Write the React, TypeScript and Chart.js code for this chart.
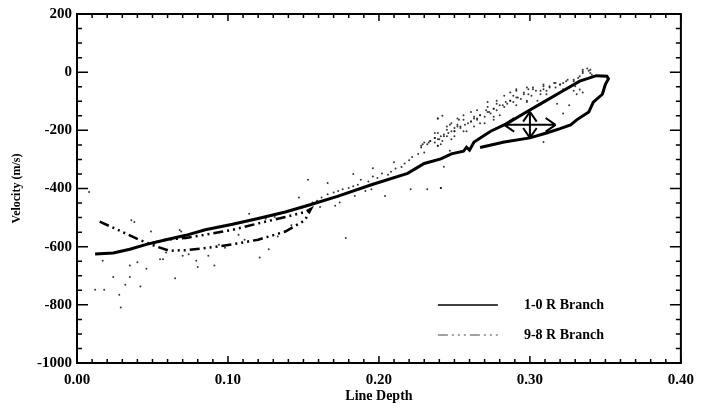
import { useEffect, useRef } from 'react';
import { Chart, registerables } from 'chart.js';

Chart.register(...registerables);

const xTicks = [0, 0.1, 0.2, 0.3, 0.4];
const yTicks = [-1000, -800, -600, -400, -200, 0, 200];
const legendLabels = ['1-0 R Branch', '9-8 R Branch'];

// 1-0 R branch (solid), traced in drawing order
const branch10X = [0.012, 0.024, 0.035, 0.046, 0.059, 0.072, 0.085, 0.103, 0.120, 0.138, 0.155, 0.173, 0.195, 0.219, 0.230, 0.241, 0.248, 0.256, 0.258, 0.260, 0.263, 0.274, 0.285, 0.296, 0.309, 0.322, 0.333, 0.344, 0.351, 0.352, 0.350, 0.348, 0.342, 0.339, 0.331, 0.327, 0.320, 0.311, 0.300, 0.283, 0.267];
const branch10Y = [-625, -622, -609, -592, -576, -561, -542, -523, -503, -481, -455, -426, -387, -348, -314, -298, -281, -272, -258, -268, -240, -203, -176, -142, -103, -64, -31, -12, -14, -23, -42, -76, -103, -137, -164, -181, -194, -209, -226, -240, -259];

// 9-8 R branch (dash-dot-dot-dot)
const branch98X = [0.015, 0.027, 0.041, 0.052, 0.061, 0.072, 0.088, 0.103, 0.120, 0.138, 0.151, 0.155, 0.151, 0.138, 0.120, 0.103, 0.085, 0.072, 0.059, 0.050];
const branch98Y = [-514, -542, -576, -598, -614, -612, -603, -592, -576, -548, -509, -470, -481, -498, -520, -542, -559, -570, -576, -587];

// individual measurements
const scatterX = [
  0.335, 0.339, 0.341, 0.333, 0.329, 0.325, 0.322, 0.320, 0.317, 0.313, 0.311, 0.309, 0.307, 0.304, 0.301, 0.299, 0.296, 0.294, 0.291, 0.289,
  0.287, 0.285, 0.283, 0.280, 0.278, 0.276, 0.274, 0.272, 0.270, 0.267, 0.265, 0.263, 0.261, 0.259, 0.256, 0.254, 0.252, 0.250, 0.248, 0.245,
  0.243, 0.241, 0.239, 0.237, 0.234, 0.232, 0.230, 0.228, 0.305, 0.298, 0.291, 0.280, 0.276, 0.270, 0.263, 0.256, 0.250, 0.239, 0.329, 0.324,
  0.318, 0.331, 0.256, 0.248, 0.291, 0.302, 0.287, 0.278, 0.239, 0.252, 0.265, 0.272, 0.298, 0.309, 0.316,
  0.322, 0.326, 0.335, 0.333, 0.340, 0.338, 0.335, 0.309, 0.243, 0.241,
  0.247, 0.250, 0.245, 0.242, 0.239, 0.237, 0.233, 0.230, 0.228, 0.226, 0.222, 0.220, 0.217, 0.215, 0.211, 0.208, 0.206, 0.202, 0.199, 0.196,
  0.193, 0.188, 0.186, 0.183, 0.180, 0.176, 0.173, 0.170, 0.166, 0.162, 0.159, 0.156, 0.166, 0.153, 0.161, 0.171, 0.174, 0.204, 0.221, 0.232,
  0.241, 0.247, 0.237, 0.229, 0.191, 0.195, 0.184, 0.147,
  0.036, 0.038, 0.049, 0.068, 0.069, 0.055, 0.057, 0.079, 0.080, 0.065, 0.046, 0.040, 0.035, 0.035, 0.028, 0.024, 0.017, 0.012, 0.018, 0.032,
  0.042, 0.091, 0.114, 0.121, 0.127, 0.133, 0.138, 0.142, 0.111, 0.107, 0.094, 0.074, 0.070, 0.059, 0.087, 0.098, 0.125, 0.131,
  0.029, 0.008, 0.178, 0.183, 0.239, 0.242, 0.196, 0.210,
  0.335, 0.340, 0.332, 0.329, 0.324, 0.320, 0.317, 0.313, 0.309, 0.307, 0.302, 0.299, 0.296, 0.292, 0.289, 0.287, 0.284, 0.282, 0.278, 0.276,
  0.273, 0.271, 0.267, 0.265, 0.263, 0.261, 0.257, 0.254, 0.252, 0.250, 0.246, 0.243, 0.240, 0.237, 0.234, 0.291, 0.283, 0.272, 0.298, 0.311,
  0.322, 0.330, 0.261, 0.253, 0.245, 0.239, 0.276, 0.267, 0.258, 0.248, 0.241,
];
const scatterY = [
  -3, 5, -9, -14, -31, -26, -37, -42, -53, -48, -64, -59, -76, -64, -81, -59, -76, -92, -87, -103,
  -98, -109, -120, -114, -131, -126, -142, -137, -153, -148, -164, -159, -170, -176, -164, -187, -181, -192, -203, -198,
  -214, -220, -231, -226, -237, -248, -242, -253, -98, -103, -114, -148, -164, -176, -187, -203, -220, -253, -64, -59,
  -109, -76, -148, -176, -64, -53, -70, -98, -159, -159, -131, -120, -53, -42, -37,
  -142, -114, -70, -60, -3, 13, 8, -240, -325, -398,
  -181, -203, -220, -237, -253, -226, -242, -276, -259, -281, -292, -303, -314, -326, -331, -342, -353, -348, -364, -359,
  -376, -370, -387, -392, -398, -403, -409, -414, -420, -431, -442, -448, -381, -370, -464, -459, -448, -426, -403, -403,
  -398, -270, -209, -248, -409, -403, -426, -431,
  -509, -515, -548, -543, -548, -643, -643, -648, -670, -709, -676, -654, -665, -704, -765, -704, -648, -748, -748, -731,
  -737, -665, -487, -637, -609, -565, -548, -526, -576, -559, -593, -626, -631, -620, -631, -604, -504, -498,
  -809, -412, -570, -350, -159, -150, -330, -310,
  2, 8, -20, -26, -31, -42, -37, -53, -48, -64, -59, -76, -70, -87, -81, -98, -103, -114, -109, -126,
  -137, -131, -148, -159, -153, -170, -181, -192, -187, -203, -209, -220, -231, -242, -237, -59, -81, -103, -98, -76,
  -59, -48, -137, -164, -187, -209, -153, -176, -203, -231, -248,
];

// error bar: centre and half-widths
const errCenterX = 0.300;
const errCenterY = -181;
const errHalfX = 0.017;
const errHalfY = 45;

const serif = '"Liberation Serif", "Times New Roman", serif';

const pairs = (xs: number[], ys: number[]) => xs.map((x, i) => ({ x, y: ys[i] }));

const DASH_98 = [10, 4, 2, 4, 2, 4, 2, 4];

const framePlugin = {
  id: 'frame',
  afterDatasetsDraw(chart: any) {
    const { ctx, chartArea: a, scales } = chart;
    const xs = scales.x;
    const ys = scales.y;
    ctx.save();
    ctx.strokeStyle = '#000';
    ctx.lineWidth = 2;
    ctx.setLineDash([]);
    ctx.strokeRect(a.left, a.top, a.right - a.left, a.bottom - a.top);

    // inward ticks on all four sides
    ctx.lineWidth = 1.5;
    ctx.beginPath();
    for (let i = 0; i <= 40; i++) {
      const p = xs.getPixelForValue(i / 100);
      const len = i % 10 === 0 ? 7 : 4;
      ctx.moveTo(p, a.bottom);
      ctx.lineTo(p, a.bottom - len);
      ctx.moveTo(p, a.top);
      ctx.lineTo(p, a.top + len);
    }
    for (let v = -1000; v <= 200; v += 50) {
      const p = ys.getPixelForValue(v);
      const len = v % 200 === 0 ? 11 : 5;
      ctx.moveTo(a.left, p);
      ctx.lineTo(a.left + len, p);
      ctx.moveTo(a.right, p);
      ctx.lineTo(a.right - len, p);
    }
    ctx.stroke();

    // error bar cross with double arrowheads
    const cx = xs.getPixelForValue(errCenterX);
    const cy = ys.getPixelForValue(errCenterY);
    const x0 = xs.getPixelForValue(errCenterX - errHalfX);
    const x1 = xs.getPixelForValue(errCenterX + errHalfX);
    const y0 = ys.getPixelForValue(errCenterY + errHalfY);
    const y1 = ys.getPixelForValue(errCenterY - errHalfY);
    ctx.lineWidth = 2;
    ctx.beginPath();
    ctx.moveTo(x0, cy); ctx.lineTo(x1, cy);
    ctx.moveTo(cx, y0); ctx.lineTo(cx, y1);
    const head = 12;
    const arrow = (tx: number, ty: number, dx: number, dy: number) => {
      const ang = Math.atan2(dy, dx);
      for (const s of [-0.6, 0.6]) {
        ctx.moveTo(tx, ty);
        ctx.lineTo(tx - head * Math.cos(ang + s), ty - head * Math.sin(ang + s));
      }
    };
    arrow(x0, cy, -1, 0);
    arrow(x1, cy, 1, 0);
    arrow(cx, y0, 0, -1);
    arrow(cx, y1, 0, 1);
    ctx.stroke();

    // legend inside plot, bottom right
    const lx0 = a.right - 243;
    const lx1 = a.right - 183;
    const tx = a.right - 157;
    const rows = [a.bottom - 58, a.bottom - 28];
    ctx.font = `bold 14px ${serif}`;
    ctx.fillStyle = '#000';
    ctx.textBaseline = 'middle';
    ctx.textAlign = 'left';
    rows.forEach((ry, i) => {
      ctx.beginPath();
      ctx.lineWidth = i === 0 ? 1.5 : 1.2;
      ctx.strokeStyle = i === 0 ? '#000' : '#444';
      ctx.setLineDash(i === 0 ? [] : DASH_98);
      ctx.moveTo(lx0, ry);
      ctx.lineTo(lx1, ry);
      ctx.stroke();
      ctx.fillText(legendLabels[i], tx, ry);
    });
    ctx.restore();
  },
};

export default function App() {
  const canvasRef = useRef<HTMLCanvasElement>(null);
  const chartRef = useRef<Chart | null>(null);

  useEffect(() => {
    document.body.style.margin = '0';
    if (!canvasRef.current) return;
    if (chartRef.current) chartRef.current.destroy();
    const ctx = canvasRef.current.getContext('2d');
    if (!ctx) return;

    const tickFont = { family: serif, weight: 'bold' as const, size: 15 };

    chartRef.current = new Chart(ctx, {
      type: 'scatter',
      data: {
        datasets: [
          {
            label: legendLabels[0],
            data: pairs(branch10X, branch10Y),
            showLine: true,
            borderColor: '#000',
            borderWidth: 3,
            pointRadius: 0,
            tension: 0,
          },
          {
            label: legendLabels[1],
            data: pairs(branch98X, branch98Y),
            showLine: true,
            borderColor: '#000',
            borderWidth: 2.5,
            borderDash: DASH_98,
            pointRadius: 0,
            tension: 0,
          },
          {
            label: 'points',
            data: pairs(scatterX, scatterY),
            pointRadius: 1,
            pointBorderWidth: 0,
            backgroundColor: 'rgba(20,20,20,0.85)',
          },
        ],
      },
      options: {
        animation: false,
        responsive: true,
        maintainAspectRatio: false,
        layout: { padding: { top: 10, right: 17, left: 0, bottom: 0 } },
        plugins: {
          legend: { display: false },
          tooltip: { enabled: false },
        },
        scales: {
          x: {
            type: 'linear',
            min: 0,
            max: 0.4,
            afterBuildTicks: (s: any) => { s.ticks = xTicks.map((value) => ({ value })); },
            afterFit: (s: any) => { s.height = 47; },
            grid: { display: false, drawTicks: false },
            border: { display: false },
            ticks: {
              padding: 8,
              color: '#000',
              font: tickFont,
              maxRotation: 0,
              callback: (v: any) => Number(v).toFixed(2),
            },
            title: {
              display: true,
              text: 'Line Depth',
              color: '#000',
              font: { family: serif, weight: 'bold', size: 14 },
              padding: { top: 0, bottom: 5 },
            },
          },
          y: {
            type: 'linear',
            min: -1000,
            max: 200,
            afterBuildTicks: (s: any) => { s.ticks = yTicks.map((value) => ({ value })); },
            afterFit: (s: any) => { s.width = 77; },
            grid: { display: false, drawTicks: false },
            border: { display: false },
            ticks: {
              padding: 5,
              color: '#000',
              font: tickFont,
              callback: (v: any) => String(v),
            },
            title: {
              display: true,
              text: 'Velocity (m/s)',
              color: '#000',
              font: { family: serif, weight: 'bold', size: 12 },
              padding: { top: 10, bottom: 0 },
            },
          },
        },
      },
      plugins: [framePlugin],
    });

    return () => { chartRef.current?.destroy(); };
  }, []);

  return (
    <div style={{ width: 702, height: 410, position: 'relative' }}>
      <canvas ref={canvasRef} />
    </div>
  );
}
